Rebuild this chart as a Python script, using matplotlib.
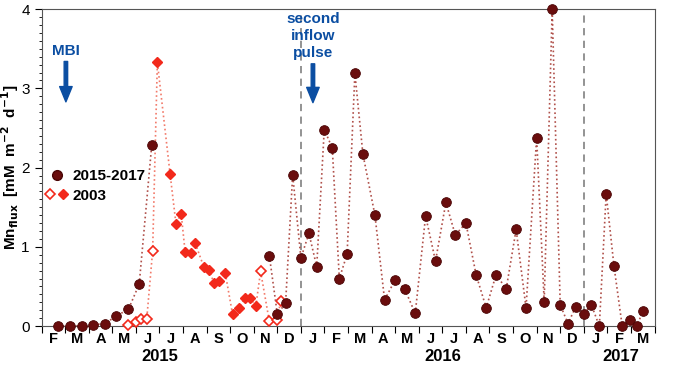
import numpy as np
import matplotlib
matplotlib.use("Agg")
import matplotlib.pyplot as plt
from matplotlib.lines import Line2D
from matplotlib.legend_handler import HandlerTuple
from matplotlib.ticker import MultipleLocator

plt.rcParams['font.family'] = ['Liberation Sans', 'DejaVu Sans']

# x in months since 1 Feb 2015
t_new = [0.71, 1.20, 1.70, 2.19, 2.69, 3.17, 3.68, 4.14, 4.67, np.nan,
         9.66, 10.00, 10.35, 10.65, 11.00, 11.34, 11.67, 11.99, 12.33, 12.63,
         12.96, 13.29, 13.63, 14.14, 14.55, 14.99, 15.40, 15.85, 16.29, 16.71,
         17.15, 17.55, 18.00, 18.43, 18.86, 19.28, 19.71, 20.13, 20.55, 21.00,
         21.32, 21.66, 22.00, 22.33, 22.65, 22.99, 23.32, 23.66, 23.95, 24.28,
         24.63, 24.95, 25.26, 25.50]
mn_new = [0.0, 0.0, 0.0, 0.02, 0.03, 0.13, 0.21, 0.53, 2.28, np.nan,
          0.89, 0.15, 0.29, 1.91, 0.86, 1.17, 0.75, 2.48, 2.25, 0.60,
          0.91, 3.19, 2.17, 1.40, 0.33, 0.58, 0.47, 0.16, 1.39, 0.82,
          1.56, 1.15, 1.30, 0.65, 0.23, 0.65, 0.47, 1.22, 0.23, 2.38,
          0.31, 4.00, 0.27, 0.03, 0.24, 0.15, 0.27, 0.0, 1.67, 0.76,
          0.0, 0.08, 0.0, 0.19]

t_2003 = [3.65, 3.99, 4.23, 4.46, 4.71, 4.91, 5.45, 5.70, 5.92, 6.09,
          6.32, 6.51, 6.89, 7.11, 7.31, 7.51, 7.79, 8.10, 8.38, 8.61,
          8.84, 9.09, 9.29, 9.66, 10.00, 10.14]
mn_2003 = [0.01, 0.05, 0.09, 0.09, 0.95, 3.33, 1.92, 1.29, 1.42, 0.93,
           0.92, 1.05, 0.74, 0.71, 0.54, 0.57, 0.67, 0.15, 0.23, 0.35,
           0.35, 0.26, 0.69, 0.06, 0.08, 0.32]
open_2003 = [1, 1, 1, 1, 1, 0, 0, 0, 0, 0,
             0, 0, 0, 0, 0, 0, 0, 0, 0, 0,
             0, 0, 1, 1, 1, 1]

months = ['F', 'M', 'A', 'M', 'J', 'J', 'A', 'S', 'O', 'N', 'D', 'J', 'F',
          'M', 'A', 'M', 'J', 'J', 'A', 'S', 'O', 'N', 'D', 'J', 'F', 'M']
years = ['2015', '2016', '2017']
year_pos = [5.0, 17.0, 24.55]
year_breaks = [11, 23]

dark = '#6a0d0d'
red = '#f2291b'
blue = '#0b4ea2'

fig = plt.figure(figsize=(6.8, 3.66), dpi=100)
ax = fig.add_axes([0.0612, 0.109, 0.9013, 0.866])

t2 = np.array(t_2003)
m2 = np.array(mn_2003)
op = np.array(open_2003, dtype=bool)

ax.plot(t2, m2, ls=':', lw=1.2, color='#f27a6a', zorder=2)
ax.plot(t2[~op], m2[~op], 'D', ms=5.5, color=red, mec=red, zorder=3,
        clip_on=False)
ax.plot(t2[op], m2[op], 'D', ms=5.5, mfc='white', mec=red, mew=1.2,
        zorder=3, clip_on=False)

ax.plot(t_new, mn_new, ls=':', lw=1.2, color='#b0504a', zorder=4)
ax.plot(t_new, mn_new, 'o', ms=7, color=dark, mec='#4a0505', mew=0.6,
        zorder=5, clip_on=False)

for xb in year_breaks:
    ax.axvline(xb, color='#8a8a8a', ls=(0, (4, 3)), lw=1.3, zorder=1)

ax.set_xlim(0, 26)
ax.set_ylim(0, 4)

ax.set_xticks(np.arange(0, 27))
ax.set_xticklabels([])
ax.set_xticks(np.arange(26) + 0.5, minor=True)
ax.set_xticklabels(months, minor=True, fontsize=10.5, fontweight='bold')
ax.tick_params(axis='x', which='major', direction='out', length=5)
ax.tick_params(axis='x', which='minor', length=0, pad=4)

ax.yaxis.set_major_locator(MultipleLocator(1))
ax.yaxis.set_minor_locator(MultipleLocator(0.1))
ax.tick_params(axis='y', which='major', direction='out', length=5,
               labelsize=11)
ax.tick_params(axis='y', which='minor', direction='out', length=2.5)

for s in ax.spines.values():
    s.set_color('#555555')

for yr, xp in zip(years, year_pos):
    ax.text(xp, -0.097, yr, transform=ax.get_xaxis_transform(),
            ha='center', va='center', fontsize=12, fontweight='bold')

ax.set_ylabel('Mn$_{\\mathbf{flux}}$  [mM  m$^{\\mathbf{-2}}$  d$^{\\mathbf{-1}}$]',
              fontsize=11, fontweight='bold')
ax.yaxis.set_label_coords(-0.033, 0.5)

# inflow annotations
arrow = dict(facecolor=blue, edgecolor=blue, width=2.5, headwidth=9,
             headlength=11)
ax.text(1.03, 3.47, 'MBI', ha='center', va='center', color=blue,
        fontsize=11, fontweight='bold')
ax.annotate('', xy=(1.03, 2.83), xytext=(1.03, 3.34), arrowprops=arrow)
ax.text(11.51, 3.97, 'second\ninflow\npulse', ha='center', va='top',
        color=blue, fontsize=11, fontweight='bold', linespacing=1.3)
ax.annotate('', xy=(11.51, 2.82), xytext=(11.51, 3.31), arrowprops=arrow)

h_new = Line2D([], [], marker='o', ls='none', ms=7, color=dark, mec='#4a0505')
h_open = Line2D([], [], marker='D', ls='none', ms=5.5, mfc='white', mec=red,
                mew=1.2)
h_fill = Line2D([], [], marker='D', ls='none', ms=5.5, color=red)
ax.legend([h_new, (h_open, h_fill)], ['2015-2017', '2003'],
          handler_map={tuple: HandlerTuple(ndivide=None, pad=0.2)},
          loc='upper left', bbox_to_anchor=(-0.004, 0.515), frameon=False,
          prop={'weight': 'bold', 'size': 11}, handlelength=1.5,
          handletextpad=0.25, labelspacing=0.38, borderaxespad=0)

fig.savefig('out.png', dpi=100)
